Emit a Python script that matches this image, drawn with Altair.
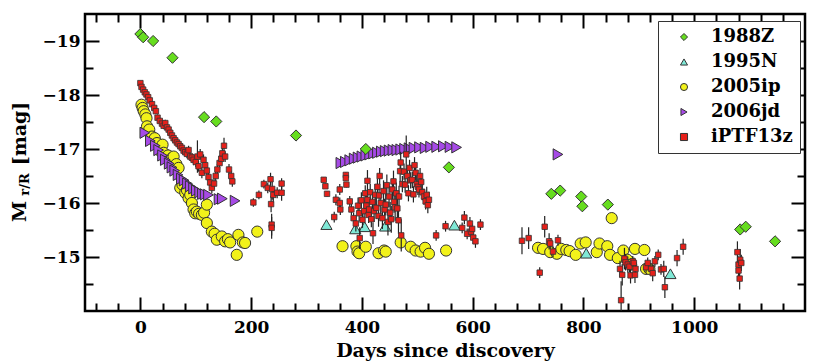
import altair as alt
import pandas as pd

# ---------------- data ----------------
sn_names = ["1988Z", "1995N", "2005ip", "2006jd", "iPTF13z"]
sn_colors = ["#66dd1e", "#7fe8d6", "#f2f21a", "#a64ae6", "#e6201a"]
sn_shapes = ["diamond", "triangle-up", "circle", "triangle-right", "square"]

z88_day = [0, 5, 23, 58, 115, 137, 281, 407, 557, 742, 758, 796, 798, 844, 1083, 1093, 1146]
z88_mag = [-19.13, -19.07, -19.0, -18.69, -17.59, -17.51, -17.25, -17.0, -16.66,
           -16.17, -16.23, -16.12, -15.94, -15.97, -15.51, -15.56, -15.29]

n95_day = [336, 388, 405, 442, 567, 805, 957]
n95_mag = [-15.6, -15.52, -15.56, -15.57, -15.59, -15.07, -14.69]

ip05_day = [2, 4, 6, 9, 11, 12, 16, 21, 26, 30, 36, 40, 42, 50, 57, 60, 65, 69, 72, 76,
            81, 84, 87, 90, 93, 96, 99, 102, 106, 111, 115, 120, 120, 129, 134, 138, 147, 153, 158, 162,
            174, 177, 185, 189, 211,
            365, 390, 392, 395, 407, 430, 440, 443, 470, 488, 497, 506, 514, 521, 552,
            718, 727, 740, 752, 760, 769, 775, 786, 795, 804, 824, 829, 843, 848, 851, 862, 872, 879, 886, 893,
            910, 913, 919]
ip05_mag = [-17.82, -17.76, -17.7, -17.64, -17.57, -17.42, -17.36, -17.23, -17.2, -17.11,
            -16.96, -17.08, -16.93, -16.88, -16.83, -16.86, -16.72, -16.65, -16.28, -16.34,
            -16.19, -16.24, -16.09, -16.15, -16.0, -15.88, -15.81, -15.84, -15.8, -15.78,
            -15.82, -15.97, -15.63, -15.47, -15.43, -15.32, -15.38, -15.29, -15.33, -15.27,
            -15.04, -15.41, -15.27, -15.26, -15.47,
            -15.2, -15.2, -15.1, -15.07, -15.19, -15.07, -15.12, -15.1, -15.27, -15.19, -15.12, -15.1, -15.17, -15.06, -15.12,
            -15.17, -15.15, -15.09, -15.06, -15.15, -15.13, -15.11, -15.04, -15.25, -15.27,
            -15.09, -15.25, -15.2, -15.04, -15.72, -14.98, -15.12, -14.95, -14.86, -15.15,
            -15.13, -14.78, -14.78]

jd06_day = [8, 18, 27, 33, 40, 45, 52, 57, 62, 68, 74, 79, 85, 90, 96, 101, 107, 112, 117, 123,
            142, 148, 171,
            362, 370, 378, 386, 393, 400, 407, 414, 421, 428, 435, 442, 449, 456, 463, 470, 477, 485,
            494, 504, 514, 524, 535, 547, 559, 571, 754]
jd06_mag = [-17.30, -17.15, -17.06, -16.98, -16.88, -16.80, -16.73, -16.66, -16.60, -16.52,
            -16.45, -16.42, -16.36, -16.31, -16.27, -16.23, -16.20, -16.17, -16.16, -16.15,
            -16.07, -16.08, -16.04,
            -16.74, -16.76, -16.79, -16.82, -16.84, -16.86, -16.88, -16.90, -16.92, -16.93, -16.95,
            -16.96, -16.97, -16.98, -16.98, -16.99, -17.00, -17.01, -17.02, -17.03, -17.02, -17.04,
            -17.04, -17.05, -17.04, -17.03, -16.90]

ptf_day = [0, 2, 5, 8, 11, 14, 17, 21, 25, 28, 31, 35, 39, 42, 45, 48, 51, 54, 57, 60,
           63, 66, 69, 72, 75, 78, 81, 84, 87, 90, 93, 96, 100, 103, 105, 108, 111, 114, 117, 120,
           123, 126, 129, 133, 136, 139, 143, 146, 148, 151, 153, 160, 164, 166,
           204, 214, 223, 230, 235, 236, 237, 237, 238, 240, 247, 255, 255,
           331, 334, 337, 350, 353, 360, 360, 361, 371, 371, 372, 378, 381, 385, 389, 393, 395, 396, 399, 401,
           404, 406, 408, 410, 410, 412, 413, 415, 417, 419, 420, 422, 424, 426, 428, 430, 431, 432, 434, 437,
           439, 441, 443, 445, 447, 449, 451, 453, 455, 457, 458, 460, 462, 464, 466, 467, 469, 470, 471, 473,
           476, 478, 480, 482, 484, 486, 488, 491, 493, 495, 497, 499, 501, 503, 505, 507, 509, 512, 515, 517,
           519, 521,
           534, 551, 581, 585, 590, 595, 597, 599, 601, 605, 614,
           689, 701, 721, 730, 738, 740, 745, 754,
           866, 868, 870, 874, 876, 880, 883, 885, 889, 891, 893, 894, 913, 916, 922, 925, 929, 935, 940, 945,
           947, 969, 980,
           1078, 1080, 1080, 1082, 1083, 1085]
ptf_mag = [-18.22, -18.15, -18.10, -18.05, -18.01, -17.96, -17.90, -17.83, -17.76, -17.70,
           -17.58, -17.52, -17.47, -17.43, -17.48, -17.40, -17.36, -17.30, -17.25, -17.20,
           -17.16, -17.12, -17.09, -17.05, -17.02, -16.97, -16.94, -16.91, -16.98, -16.86,
           -16.84, -16.80, -16.76, -16.86, -16.68, -16.90, -16.56, -16.80, -16.70, -16.60,
           -16.48, -16.38, -16.28, -16.36, -16.50, -16.62, -16.74, -16.82, -16.92, -17.06,
           -16.86, -16.62, -16.50, -16.40,
           -16.01, -16.15, -16.35, -16.28, -16.44, -15.98, -15.60, -15.54, -16.26, -16.15, -16.19, -16.19, -16.36,
           -16.43, -16.31, -16.17, -15.74, -16.06, -16.25, -16.00, -15.88, -16.52, -16.46,
           -16.34, -16.03, -15.88, -15.72, -15.62, -15.95, -15.81, -15.35, -16.05, -15.69,
           -15.85, -16.18, -15.95, -16.06, -16.41, -15.78, -15.88, -16.20, -15.70, -16.02,
           -15.44, -15.85, -16.15, -15.91, -16.30, -15.76, -16.14, -16.50, -16.00, -15.72,
           -16.22, -15.88, -15.97, -16.33, -15.65, -16.12, -15.82, -15.70, -16.25, -16.40,
           -16.02, -15.92, -16.18, -15.90, -15.68, -16.12, -16.59, -16.75, -15.40, -16.35,
           -16.58, -16.34, -16.90, -16.50, -16.18, -16.65, -16.42, -16.43, -16.16, -16.70,
           -16.56, -16.35, -16.30, -16.25, -16.50, -16.39, -16.20, -16.12, -16.03, -16.15,
           -15.96, -16.06,
           -15.40, -15.57, -15.54, -15.73, -15.43, -15.62, -15.47, -15.52, -15.36, -15.29, -15.60,
           -15.30, -15.35, -14.71, -15.56, -15.29, -15.25, -15.10, -15.31,
           -14.78, -14.20, -14.67, -14.97, -14.90, -14.86, -14.82, -14.66, -14.92, -14.89,
           -14.67, -14.78, -14.81, -14.89, -14.78, -14.70, -14.92, -15.04, -14.77, -14.78,
           -14.44, -14.98, -15.19,
           -15.09, -14.86, -14.75, -14.60, -14.95, -14.89]
ptf_err = [0.04, 0.04, 0.04, 0.04, 0.04, 0.05, 0.05, 0.05, 0.05, 0.05,
           0.06, 0.06, 0.06, 0.06, 0.06, 0.06, 0.06, 0.06, 0.07, 0.07,
           0.07, 0.07, 0.07, 0.07, 0.08, 0.08, 0.08, 0.08, 0.08, 0.08,
           0.08, 0.10, 0.10, 0.30, 0.10, 0.10, 0.10, 0.10, 0.10, 0.10,
           0.10, 0.10, 0.10, 0.10, 0.10, 0.10, 0.10, 0.10, 0.10, 0.15,
           0.10, 0.10, 0.10, 0.10,
           0.08, 0.08, 0.08, 0.10, 0.12, 0.15, 0.20, 0.20, 0.20, 0.15, 0.10, 0.15, 0.10,
           0.05, 0.05, 0.05, 0.10, 0.10, 0.10, 0.10, 0.10, 0.05, 0.05,
           0.05, 0.10, 0.10, 0.10, 0.15, 0.15, 0.15, 0.20, 0.15, 0.15,
           0.20, 0.15, 0.20, 0.20, 0.20, 0.15, 0.20, 0.15, 0.15, 0.20,
           0.20, 0.20, 0.20, 0.20, 0.15, 0.20, 0.20, 0.15, 0.20, 0.20,
           0.20, 0.20, 0.20, 0.20, 0.25, 0.20, 0.20, 0.25, 0.20, 0.20,
           0.20, 0.25, 0.20, 0.20, 0.25, 0.20, 0.20, 0.20, 0.30, 0.15,
           0.15, 0.15, 0.35, 0.15, 0.15, 0.15, 0.15, 0.15, 0.15, 0.15,
           0.15, 0.15, 0.15, 0.15, 0.15, 0.15, 0.15, 0.15, 0.15, 0.15,
           0.15, 0.15,
           0.10, 0.10, 0.10, 0.12, 0.10, 0.12, 0.10, 0.10, 0.12, 0.12, 0.10,
           0.25, 0.20, 0.10, 0.20, 0.15, 0.10, 0.10, 0.10,
           0.15, 0.35, 0.20, 0.20, 0.15, 0.15, 0.10, 0.15, 0.10, 0.10,
           0.15, 0.10, 0.10, 0.10, 0.10, 0.15, 0.10, 0.10, 0.10, 0.15,
           0.20, 0.15, 0.15,
           0.20, 0.15, 0.15, 0.20, 0.20, 0.15]

x_major = [0, 200, 400, 600, 800, 1000]
x_minor = [-80, -40, 40, 80, 120, 160, 240, 280, 320, 360, 440, 480, 520, 560, 640, 680, 720, 760,
           840, 880, 920, 960, 1040, 1080, 1120, 1160]
y_major = [-19, -18, -17, -16, -15]
y_minor = [-18.5, -17.5, -16.5, -15.5, -14.5]

# ---------------- tables ----------------
frames = []
for name, d, m in [("2005ip", ip05_day, ip05_mag), ("2006jd", jd06_day, jd06_mag),
                   ("1995N", n95_day, n95_mag), ("1988Z", z88_day, z88_mag)]:
    frames.append(pd.DataFrame({"sn": name, "day": d, "mag": m}))
others = pd.concat(frames, ignore_index=True)
ptf = pd.DataFrame({"sn": "iPTF13z", "day": ptf_day, "mag": ptf_mag, "err": ptf_err})

W, H = 720, 297
FONT = "DejaVu Serif"

xscale = alt.Scale(domain=[-100, 1200], nice=False, zero=False)
yscale = alt.Scale(domain=[-19.5, -14], nice=False, zero=False, reverse=True)
cscale = alt.Scale(domain=sn_names, range=sn_colors)
sscale = alt.Scale(domain=sn_names, range=sn_shapes)

legend = alt.Legend(title=None, orient="none", legendX=573, legendY=7, direction="vertical",
                    strokeColor="#333333", fillColor="white", padding=7,
                    labelFont=FONT, labelFontWeight="bold", labelFontSize=18, labelColor="black",
                    symbolSize=50, symbolStrokeColor="#333333", symbolStrokeWidth=1,
                    symbolOffset=10, labelOffset=18, rowPadding=7)


def axis(orient, values, size, **kw):
    return alt.Axis(orient=orient, values=values, tickSize=size, offset=-size, domain=False,
                    grid=False, ticks=True, tickColor="black", tickWidth=2, **kw)


# layer 1: other supernovae
l_others = alt.Chart(others).mark_point(filled=True, opacity=1, size=125, stroke="#333333",
                                        strokeWidth=1).encode(
    x=alt.X("day:Q", scale=xscale, axis=axis("top", x_major, 14, labels=False, title=None)),
    y=alt.Y("mag:Q", scale=yscale,
            axis=axis("right", y_major, 14, labels=False, title="[mag]", titleX=-772, titleY=119,
                      titleAngle=270, titleAlign="center", titleBaseline="middle",
                      titleFont=FONT, titleFontWeight="bold", titleFontSize=19, titleColor="black")),
    color=alt.Color("sn:N", scale=cscale, legend=legend),
    shape=alt.Shape("sn:N", scale=sscale, legend=legend),
)

# layer 2: iPTF13z error bars
l_err = alt.Chart(ptf).transform_calculate(
    lo="datum.mag - datum.err", hi="datum.mag + datum.err"
).mark_rule(color="#222222", strokeWidth=1.2, clip=True).encode(
    x=alt.X("day:Q", scale=xscale,
            axis=axis("bottom", x_major, 14, labels=True, format="d", labelPadding=8,
                      title="Days since discovery", titleX=360, titleY=53, titleAlign="center",
                      titleBaseline="middle", titleFont=FONT, titleFontWeight="bold",
                      titleFontSize=19, titleColor="black")),
    y=alt.Y("lo:Q", scale=yscale,
            axis=axis("left", y_major, 14, labels=True, format="d", labelPadding=5,
                      title="M", titleX=-80, titleY=197, titleAngle=270, titleAlign="center",
                      titleBaseline="middle", titleFont=FONT, titleFontWeight="bold",
                      titleFontSize=19, titleColor="black")),
    y2="hi:Q",
)

# layer 3: iPTF13z points
l_ptf = alt.Chart(ptf).mark_point(filled=True, opacity=1, size=30, stroke="#333333",
                                  strokeWidth=0.8).encode(
    x=alt.X("day:Q", scale=xscale, axis=axis("bottom", x_minor, 8, labels=False, title=None)),
    y=alt.Y("mag:Q", scale=yscale,
            axis=axis("left", y_minor, 8, labels=False, title="r/R", titleX=-68.5, titleY=170,
                      titleAngle=270, titleAlign="center", titleBaseline="middle",
                      titleFont=FONT, titleFontWeight="bold", titleFontSize=13, titleColor="black")),
    color=alt.Color("sn:N", scale=cscale, legend=legend),
    shape=alt.Shape("sn:N", scale=sscale, legend=legend),
)

# layer 4: invisible carrier of top/right minor ticks
l_minor = alt.Chart(ptf).mark_point(opacity=0).encode(
    x=alt.X("day:Q", scale=xscale, axis=axis("top", x_minor, 8, labels=False, title=None)),
    y=alt.Y("mag:Q", scale=yscale, axis=axis("right", y_minor, 8, labels=False, title=None)),
)

chart = alt.layer(l_others, l_err, l_ptf, l_minor).resolve_axis(
    x="independent", y="independent"
).properties(
    width=W, height=H,
    autosize=alt.AutoSizeParams(type="none"),
    padding={"left": 77, "top": 6, "right": 4, "bottom": 51},
    background="white",
).configure_view(
    stroke="black", strokeWidth=2.5
).configure_axis(
    labelFont=FONT, labelFontWeight="bold", labelFontSize=17, labelColor="black",
)

chart.save("out.html", embed_options={"renderer": "svg", "actions": False})
